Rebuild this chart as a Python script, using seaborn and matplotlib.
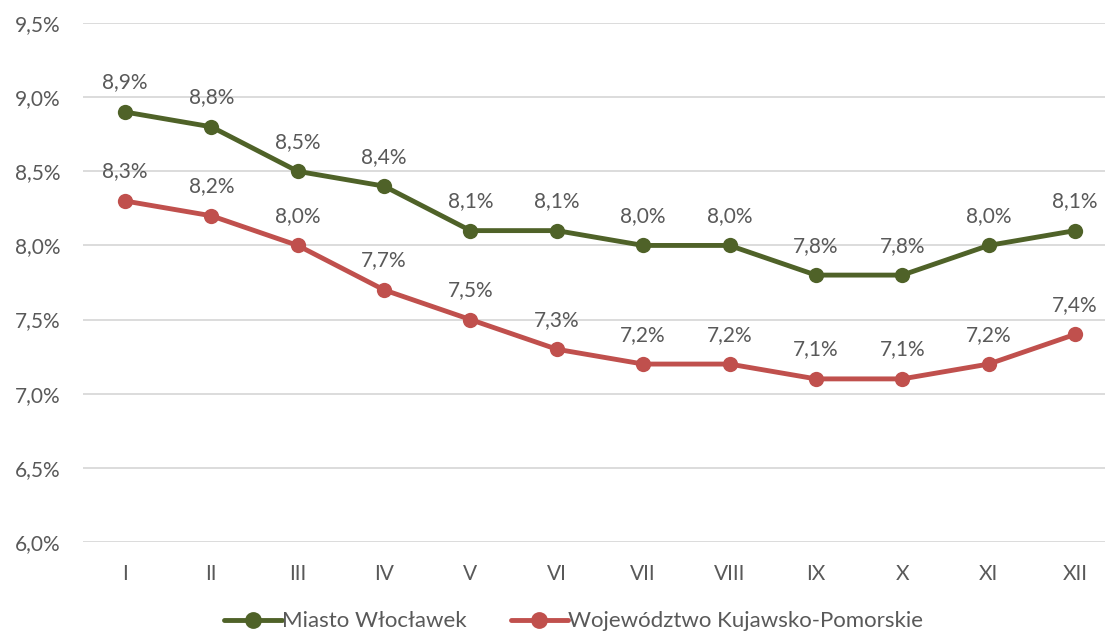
import numpy as np
import pandas as pd
import matplotlib
matplotlib.use("Agg")
import matplotlib.pyplot as plt
import seaborn as sns

# data
months = ["I", "II", "III", "IV", "V", "VI", "VII", "VIII", "IX", "X", "XI", "XII"]
wloclawek = [8.9, 8.8, 8.5, 8.4, 8.1, 8.1, 8.0, 8.0, 7.8, 7.8, 8.0, 8.1]
kujawsko = [8.3, 8.2, 8.0, 7.7, 7.5, 7.3, 7.2, 7.2, 7.1, 7.1, 7.2, 7.4]
series_names = ["Miasto Włocławek", "Województwo Kujawsko-Pomorskie"]
yticks = [6.0, 6.5, 7.0, 7.5, 8.0, 8.5, 9.0, 9.5]

df = pd.DataFrame({
    "month": months * 2,
    "x": list(range(len(months))) * 2,
    "value": wloclawek + kujawsko,
    "series": [series_names[0]] * 12 + [series_names[1]] * 12,
})

sns.set_theme(style="white")
plt.rcParams["font.family"] = ["Lato", "DejaVu Sans"]
text_col = "#595959"
colours = {series_names[0]: "#4F6228", series_names[1]: "#C0504D"}

fig = plt.figure(figsize=(11.05, 6.36), dpi=100)
ax = fig.add_axes([0.0751, 0.1478, 0.9249, 0.816])

sns.lineplot(data=df, x="x", y="value", hue="series", palette=colours,
             marker="o", markersize=11, markeredgewidth=0, linewidth=3.5,
             ax=ax, legend=True)

def fmt(v):
    return f"{v:.1f}%".replace(".", ",")

for name, vals in zip(series_names, [wloclawek, kujawsko]):
    for i, v in enumerate(vals):
        ax.annotate(fmt(v), (i, v), xytext=(0, 14), textcoords="offset points",
                    ha="center", va="bottom", fontsize=15, color=text_col)

ax.set_xlim(-0.486, 11.347)
ax.set_ylim(6.0, 9.5)
ax.set_yticks(yticks)
ax.set_yticklabels([fmt(t) for t in yticks], fontsize=15, color=text_col)
ax.set_xticks(range(len(months)))
ax.set_xticklabels(months, fontsize=15, color=text_col)
ax.tick_params(axis="y", length=0, pad=16)
ax.tick_params(axis="x", length=0, pad=16)
ax.yaxis.grid(True, color="#D9D9D9", linewidth=1.3)
ax.set_axisbelow(True)
for s in ax.spines.values():
    s.set_visible(False)
ax.set_xlabel("")
ax.set_ylabel("")

# legend a touch higher than in the reference so its text is not clipped
leg = ax.legend(loc="center", bbox_to_anchor=(0.48, -0.153), ncol=2, frameon=False,
                fontsize=16, handlelength=2.6, handletextpad=0.0, columnspacing=2.0,
                labelcolor=text_col, markerscale=1.1, borderpad=0.2)

fig.savefig("out.png", dpi=100)
